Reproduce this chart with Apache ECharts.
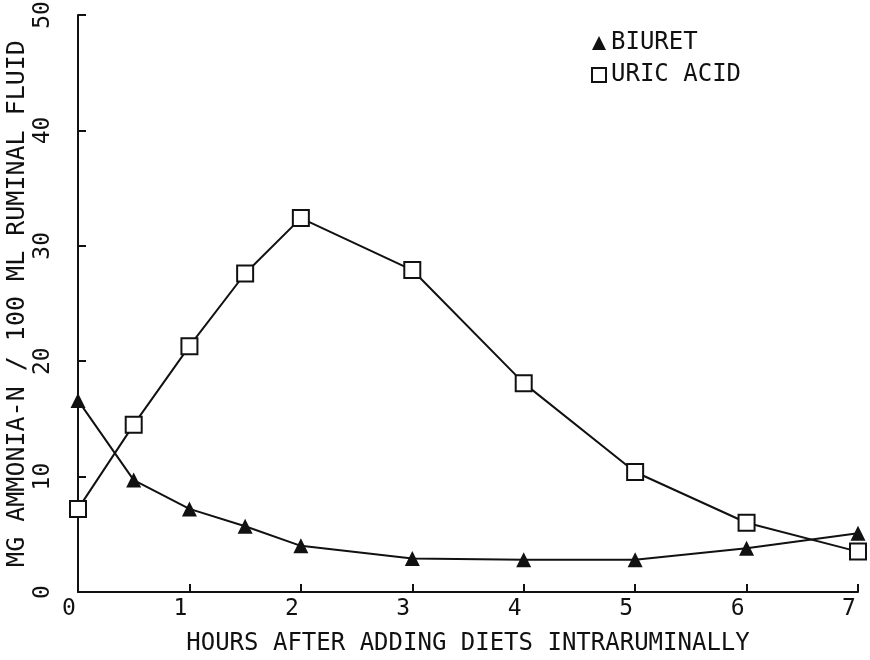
<!DOCTYPE html>
<html>
<head>
<meta charset="utf-8">
<script src="https://cdn.jsdelivr.net/npm/echarts@6/dist/echarts.min.js"></script>
<style>html,body{margin:0;padding:0;background:#fff;}#c{width:870px;height:660px;}</style>
</head>
<body>
<div id="c"></div>
<script>
const hours = [0, 0.5, 1, 1.5, 2, 3, 4, 5, 6, 7];
const biuret = [16.6, 9.7, 7.2, 5.7, 4.0, 2.9, 2.8, 2.8, 3.8, 5.1];
const uricAcid = [7.2, 14.5, 21.3, 27.6, 32.4, 27.9, 18.1, 10.4, 6.0, 3.5];
const seriesNames = ['BIURET', 'URIC ACID'];
const xTitle = 'HOURS AFTER ADDING DIETS INTRARUMINALLY';
const yTitle = 'MG AMMONIA-N / 100 ML RUMINAL FLUID';

const FONT = '"DejaVu Sans Mono", monospace';
const INK = '#111';
const pair = (xs, ys) => xs.map((x, i) => [x, ys[i]]);

const chart = echarts.init(document.getElementById('c'));
chart.setOption({
  animation: false,
  backgroundColor: '#fff',
  textStyle: { fontFamily: FONT, color: INK },
  grid: { left: 78, right: 12, top: 15, bottom: 68, containLabel: false, outerBoundsMode: 'none' },
  legend: {
    orient: 'vertical', left: 586, top: 26, itemGap: 8,
    itemWidth: 14, itemHeight: 14,
    textStyle: { fontFamily: FONT, fontSize: 24, color: INK },
    data: [
      { name: seriesNames[0], icon: 'triangle', itemStyle: { color: INK } },
      { name: seriesNames[1], icon: 'rect', itemStyle: { color: '#fff', borderColor: INK, borderWidth: 2 } }
    ]
  },
  xAxis: {
    type: 'value', min: 0, max: 7, interval: 1,
    name: xTitle, nameLocation: 'middle', nameGap: 40, nameMoveOverlap: false,
    nameTextStyle: { fontFamily: FONT, fontSize: 24, color: INK },
    axisLine: { lineStyle: { color: INK, width: 2 } },
    axisTick: { inside: true, length: 8, lineStyle: { color: INK, width: 2 } },
    axisLabel: { fontFamily: FONT, fontSize: 23, color: INK, margin: 6, padding: [0, 18, 0, 0] },
    splitLine: { show: false }
  },
  yAxis: {
    type: 'value', min: 0, max: 50, interval: 10,
    name: yTitle, nameLocation: 'middle', nameGap: 48, nameMoveOverlap: false,
    nameTextStyle: { fontFamily: FONT, fontSize: 25, color: INK },
    axisLine: { show: true, lineStyle: { color: INK, width: 2 } },
    axisTick: { show: true, inside: true, length: 8, lineStyle: { color: INK, width: 2 } },
    axisLabel: { fontFamily: FONT, fontSize: 23, color: INK, rotate: 90, margin: 23 },
    splitLine: { show: false }
  },
  series: [
    {
      name: seriesNames[0], type: 'line', data: pair(hours, biuret),
      symbol: 'triangle', symbolSize: 15,
      itemStyle: { color: INK },
      lineStyle: { color: INK, width: 2 }
    },
    {
      name: seriesNames[1], type: 'line', data: pair(hours, uricAcid),
      symbol: 'rect', symbolSize: 16,
      itemStyle: { color: '#fff', borderColor: INK, borderWidth: 2 },
      lineStyle: { color: INK, width: 2 }
    }
  ]
});
</script>
</body>
</html>
